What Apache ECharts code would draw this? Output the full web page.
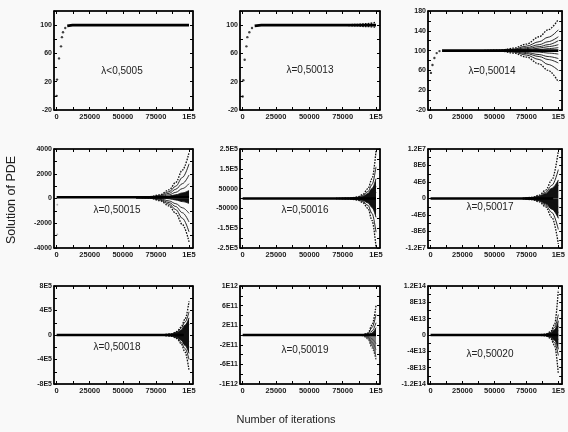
<!DOCTYPE html>
<html><head><meta charset="utf-8">
<script src="https://cdn.jsdelivr.net/npm/echarts@6/dist/echarts.min.js"></script>
<style>html,body{margin:0;padding:0;background:#f9f9f9}#c{width:568px;height:432px}</style>
</head><body><div id="c"></div>
<script>
// ---------- data ----------
const xTickVals = [0, 25000, 50000, 75000, 100000];
const xTickText = ['0', '25000', '50000', '75000', '1E5'];
const lambdaLabels = ['λ<0,5005', 'λ=0,50013', 'λ=0,50014', 'λ=0,50015', 'λ=0,50016', 'λ=0,50017', 'λ=0,50018', 'λ=0,50019', 'λ=0,50020'];

const y1Ticks = [-20, 20, 60, 100];            const y1Text = ['-20', '20', '60', '100'];
const y2Ticks = [-20, 20, 60, 100];            const y2Text = ['-20', '20', '60', '100'];
const y3Ticks = [-20, 20, 60, 100, 140, 180];  const y3Text = ['-20', '20', '60', '100', '140', '180'];
const y4Ticks = [-4000, -2000, 0, 2000, 4000]; const y4Text = ['-4000', '-2000', '0', '2000', '4000'];
const y5Ticks = [-250000, -150000, -50000, 50000, 150000, 250000]; const y5Text = ['-2.5E5', '-1.5E5', '-50000', '50000', '1.5E5', '2.5E5'];
const y6Ticks = [-1.2e7, -8e6, -4e6, 0, 4e6, 8e6, 1.2e7]; const y6Text = ['-1.2E7', '-8E6', '-4E6', '0', '4E6', '8E6', '1.2E7'];
const y7Ticks = [-8e5, -4e5, 0, 4e5, 8e5];     const y7Text = ['-8E5', '-4E5', '0', '4E5', '8E5'];
const y8Ticks = [-1e12, -6e11, -2e11, 2e11, 6e11, 1e12]; const y8Text = ['-1E12', '-6E11', '-2E11', '2E11', '6E11', '1E12'];
const y9Ticks = [-1.2e14, -8e13, -4e13, 0, 4e13, 8e13, 1.2e14]; const y9Text = ['-1.2E14', '-8E13', '-4E13', '0', '4E13', '8E13', '1.2E14'];

const yRanges = [[-20, 120], [-20, 120], [-20, 180], [-4000, 4000], [-250000, 250000], [-1.2e7, 1.2e7], [-8e5, 8e5], [-1e12, 1e12], [-1.2e14, 1.2e14]];

// start-up points and main trajectory
const p1Rise = [[0, 0], [300, 23], [1800, 53], [3300, 70], [4000, 83], [4800, 90], [6500, 96]];
const p1Flat = [[8000, 99], [12000, 100], [100000, 100]];
const p2Rise = [[0, -1], [500, 22], [1500, 51], [2800, 70], [3500, 83], [5000, 90], [7000, 96]];
const p2Flat = [[9000, 99], [14000, 100], [100000, 100]];
const p3Rise = [[300, 55], [1500, 71], [3000, 85], [4800, 95], [7000, 99]];
const p3Flat = [[9000, 100], [100000, 100]];
const p4Flat = [[0, 100], [100000, 100]];
const p4Stray = [[500, -500], [500, -2900]];
const p5Flat = [[0, 100], [100000, 100]];
const p6Flat = [[0, 100], [96000, 100]];
const p7Flat = [[0, 100], [96000, 100]];
const p8Flat = [[0, 100], [100000, 100]];
const p9Flat = [[0, 100], [100000, 100]];

// diverging branches
const p2FanX = [75000, 85000, 92000, 100000];
const p2Fans = [[100, 101, 102, 104], [100, 99, 98, 97]];

const p3FanX = [40000, 55000, 65000, 75000, 85000, 92000, 100000];
const p3Fans = [
  [100, 101, 105, 113, 128, 142, 163],
  [100, 101, 103, 109, 118, 127, 142],
  [100, 100, 102, 106, 112, 118, 128],
  [100, 100, 101, 104, 108, 112, 120],
  [100, 100, 101, 102, 105, 108, 112],
  [100, 100, 100, 101, 102, 104, 106],
  [100, 100, 99, 98, 97, 95, 93],
  [100, 100, 99, 96, 92, 88, 84],
  [100, 99, 98, 94, 88, 82, 75],
  [100, 99, 97, 91, 82, 72, 60],
  [100, 99, 95, 87, 73, 60, 37]
];

const p4FanX = [60000, 70000, 78000, 85000, 90000, 95000, 100000];
const p4Fans = [
  [100, 150, 300, 700, 1300, 2300, 3700],
  [100, 130, 250, 550, 1000, 1700, 2800],
  [100, 120, 200, 420, 750, 1200, 1900],
  [100, 110, 160, 300, 500, 800, 1200],
  [100, 105, 130, 200, 300, 450, 650],
  [100, 100, 110, 130, 160, 200, 250],
  [100, 90, 60, -20, -120, -250, -400],
  [100, 80, 0, -200, -420, -750, -1200],
  [100, 60, -60, -330, -650, -1150, -1900],
  [100, 50, -120, -460, -900, -1600, -2700],
  [100, 40, -180, -600, -1200, -2100, -3500]
];

const p5FanX = [70000, 80000, 86000, 90000, 94000, 97000, 100000];
const p5Fans = [
  [0, 2000, 8000, 20000, 50000, 100000, 240000],
  [0, 1500, 6000, 15000, 35000, 70000, 160000],
  [0, 1000, 4000, 10000, 25000, 50000, 100000],
  [0, 700, 2500, 7000, 15000, 30000, 60000],
  [0, 300, 1000, 3000, 7000, 14000, 30000],
  [0, -500, -2000, -6000, -13000, -28000, -55000],
  [0, -1000, -4000, -10000, -22000, -45000, -95000],
  [0, -1500, -6000, -15000, -35000, -75000, -170000],
  [0, -2000, -8000, -20000, -50000, -110000, -245000]
];

const p6FanX = [72000, 80000, 85000, 90000, 95000, 100000];
const p6Fans = [
  [0, 3e5, 8e5, 2e6, 4.5e6, 1.15e7],
  [0, 2.5e5, 6e5, 1.5e6, 3.2e6, 7e6],
  [0, 2e5, 5e5, 1.2e6, 2.5e6, 4.5e6],
  [0, 1.5e5, 3.5e5, 8e5, 1.8e6, 3.2e6],
  [0, 1e5, 2e5, 4e5, 1e6, 1.8e6],
  [0, -1e5, -2e5, -5e5, -1e6, -2e6],
  [0, -1.5e5, -3.5e5, -9e5, -1.8e6, -3.4e6],
  [0, -2e5, -5e5, -1.3e6, -2.6e6, -4.8e6],
  [0, -2.5e5, -6e5, -1.6e6, -3.4e6, -7.5e6],
  [0, -3e5, -8e5, -2e6, -4.6e6, -1.1e7]
];

const p7FanX = [80000, 87000, 91000, 94000, 97000, 100000];
const p7Fans = [
  [0, 2e4, 6e4, 1.3e5, 2.6e5, 5.5e5],
  [0, 1.6e4, 5e4, 1.1e5, 2.1e5, 3.8e5],
  [0, 1.2e4, 4e4, 8e4, 1.6e5, 2.8e5],
  [0, 8e3, 2.5e4, 5e4, 1e5, 1.8e5],
  [0, 4e3, 1.2e4, 2.5e4, 5e4, 9e4],
  [0, -4e3, -1.2e4, -2.5e4, -5e4, -1e5],
  [0, -8e3, -2.5e4, -5.5e4, -1.1e5, -2e5],
  [0, -1.2e4, -4e4, -8.5e4, -1.7e5, -3e5],
  [0, -1.6e4, -5e4, -1.2e5, -2.2e5, -4e5],
  [0, -2e4, -6e4, -1.4e5, -2.8e5, -5.8e5]
];

const p8FanX = [83000, 90000, 94000, 97000, 100000];
const p8Fans = [
  [0, 5e9, 4e10, 2e11, 6e11],
  [0, 4e9, 3e10, 1.5e11, 4.2e11],
  [0, 3e9, 2e10, 8e10, 2.5e11],
  [0, 2e9, 1e10, 4e10, 1.5e11],
  [0, -3e9, -2e10, -8e10, -1.8e11],
  [0, -5e9, -4e10, -1.5e11, -3e11],
  [0, -8e9, -6e10, -2.2e11, -4.5e11],
  [0, -1e10, -8e10, -2.6e11, -5e11]
];

const p9FanX = [84000, 90000, 94000, 97000, 100000];
const p9Fans = [
  [0, 2e12, 8e12, 2.5e13, 1.1e14],
  [0, 1.5e12, 6e12, 1.8e13, 5e13],
  [0, 1.2e12, 5e12, 1.3e13, 3.5e13],
  [0, 8e11, 3e12, 8e12, 2.2e13],
  [0, 4e11, 1.5e12, 4e12, 1e13],
  [0, -4e11, -1.5e12, -4e12, -1e13],
  [0, -8e11, -3e12, -8e12, -2.2e13],
  [0, -1.2e12, -5e12, -1.3e13, -3.5e13],
  [0, -1.5e12, -6e12, -1.8e13, -5e13],
  [0, -2e12, -8e12, -2.5e13, -9.5e13]
];

// ---------- layout / style ----------
const colLeft = [54, 240, 428], colWidth = [139, 140, 139];
const rowTop = [11, 149, 286], rowHeight = [99, 99, 98];
const labelPos = [[122, 71], [310, 70], [492, 71], [117, 210], [305, 210], [490, 207], [117, 347], [305, 350], [490, 354]];

const panels = [
  { yT: y1Ticks, yL: y1Text, rise: p1Rise, flat: p1Flat, fanX: null, fans: [], dense: [] },
  { yT: y2Ticks, yL: y2Text, rise: p2Rise, flat: p2Flat, fanX: p2FanX, fans: p2Fans, dense: [] },
  { yT: y3Ticks, yL: y3Text, rise: p3Rise, flat: p3Flat, fanX: p3FanX, fans: p3Fans, dense: [] },
  { yT: y4Ticks, yL: y4Text, rise: p4Stray, flat: p4Flat, fanX: p4FanX, fans: p4Fans, dense: [4, 6], faintRise: true },
  { yT: y5Ticks, yL: y5Text, rise: null, flat: p5Flat, fanX: p5FanX, fans: p5Fans, dense: [2, 6] },
  { yT: y6Ticks, yL: y6Text, rise: null, flat: p6Flat, fanX: p6FanX, fans: p6Fans, dense: [2, 7] },
  { yT: y7Ticks, yL: y7Text, rise: null, flat: p7Flat, fanX: p7FanX, fans: p7Fans, dense: [2, 7] },
  { yT: y8Ticks, yL: y8Text, rise: null, flat: p8Flat, fanX: p8FanX, fans: p8Fans, dense: [3, 6] },
  { yT: y9Ticks, yL: y9Text, rise: null, flat: p9Flat, fanX: p9FanX, fans: p9Fans, dense: [2, 7] }
];

const FONT = 'Liberation Sans';
const X_MIN = -2000, X_MAX = 103000;

function withMinor(ticks, lo, hi) {
  const step = (ticks[1] - ticks[0]) / 2;
  const out = [];
  let v = ticks[0];
  while (v - step >= lo) v -= step;
  for (; v <= hi + 1e-9 * Math.abs(hi); v += step) out.push(v);
  return out;
}

const grid = [], xAxis = [], yAxis = [], series = [], graphic = [];
panels.forEach((p, i) => {
  const r = Math.floor(i / 3), c = i % 3;
  grid.push({ left: colLeft[c], top: rowTop[r], width: colWidth[c], height: rowHeight[r],
    show: true, borderColor: '#000', borderWidth: 1, backgroundColor: 'transparent' });
  const [ymin, ymax] = yRanges[i];
  const xAll = withMinor(xTickVals, X_MIN, X_MAX);
  const yAll = withMinor(p.yT, ymin, ymax);
  const line = { show: true, onZero: false, lineStyle: { color: '#000', width: 1.6 } };
  const tickX = { show: true, inside: true, length: 3, customValues: xAll, lineStyle: { color: '#000', width: 1 } };
  const tickY = { show: true, inside: true, length: 3, customValues: yAll, lineStyle: { color: '#000', width: 1 } };
  xAxis.push({ type: 'value', gridIndex: i, min: X_MIN, max: X_MAX, position: 'bottom',
    axisLine: line, axisTick: tickX, splitLine: { show: false },
    axisLabel: { show: true, customValues: xTickVals, margin: 3, fontSize: 7.5, fontWeight: 'bold', fontFamily: FONT, color: '#1a1a1a',
      formatter: v => xTickText[xTickVals.indexOf(v)] ?? '' } });
  xAxis.push({ type: 'value', gridIndex: i, min: X_MIN, max: X_MAX, position: 'top',
    axisLine: line, axisTick: tickX, splitLine: { show: false }, axisLabel: { show: false } });
  yAxis.push({ type: 'value', gridIndex: i, min: ymin, max: ymax, position: 'left',
    axisLine: line, axisTick: tickY, splitLine: { show: false },
    axisLabel: { show: true, customValues: p.yT, margin: 2, fontSize: 7, fontWeight: 'bold', fontFamily: FONT, color: '#1a1a1a',
      formatter: v => p.yL[p.yT.indexOf(v)] ?? '' } });
  yAxis.push({ type: 'value', gridIndex: i, min: ymin, max: ymax, position: 'right',
    axisLine: line, axisTick: tickY, splitLine: { show: false }, axisLabel: { show: false } });

  const ax = { xAxisIndex: 2 * i, yAxisIndex: 2 * i };
  if (p.rise) series.push({ type: 'scatter', ...ax, data: p.rise, symbolSize: p.faintRise ? 1.8 : 2.4,
    itemStyle: { color: p.faintRise ? '#999' : '#111' }, silent: true });
  if (p.fanX) p.fans.forEach((b, k) => {
    const dense = p.dense.includes(k);
    const grey = i === 7 && k >= 4;
    const outer = k === 0 || k === p.fans.length - 1;
    series.push({ type: 'line', ...ax, smooth: 0.35, smoothMonotone: 'x', symbol: 'none', silent: true,
      data: p.fanX.map((x, j) => [x, b[j]]),
      lineStyle: { color: grey ? '#444' : '#111', width: outer ? 1.3 : 0.9, type: outer ? [1.6, 1.2] : 'solid' },
      areaStyle: dense ? { color: grey ? '#555' : '#111', opacity: grey ? 0.75 : 1 } : undefined });
  });
  series.push({ type: 'line', ...ax, data: p.flat, symbol: 'none', silent: true, lineStyle: { color: '#000', width: 2.6 } });

  graphic.push({ type: 'text', x: labelPos[i][0], y: labelPos[i][1], silent: true,
    style: { text: lambdaLabels[i], fill: '#222', fontSize: 10, fontFamily: FONT, align: 'center', verticalAlign: 'middle' } });
});

graphic.push({ type: 'text', x: 12, y: 200, rotation: Math.PI / 2, silent: true,
  style: { text: 'Solution of PDE', fill: '#222', fontSize: 12.5, fontFamily: FONT, align: 'center', verticalAlign: 'middle' } });
graphic.push({ type: 'text', x: 286, y: 420, silent: true,
  style: { text: 'Number of iterations', fill: '#222', fontSize: 11, fontFamily: FONT, align: 'center', verticalAlign: 'middle' } });

const chart = echarts.init(document.getElementById('c'), null, { renderer: 'canvas' });
chart.setOption({ animation: false, backgroundColor: '#f9f9f9', grid, xAxis, yAxis, series, graphic });
</script></body></html>
